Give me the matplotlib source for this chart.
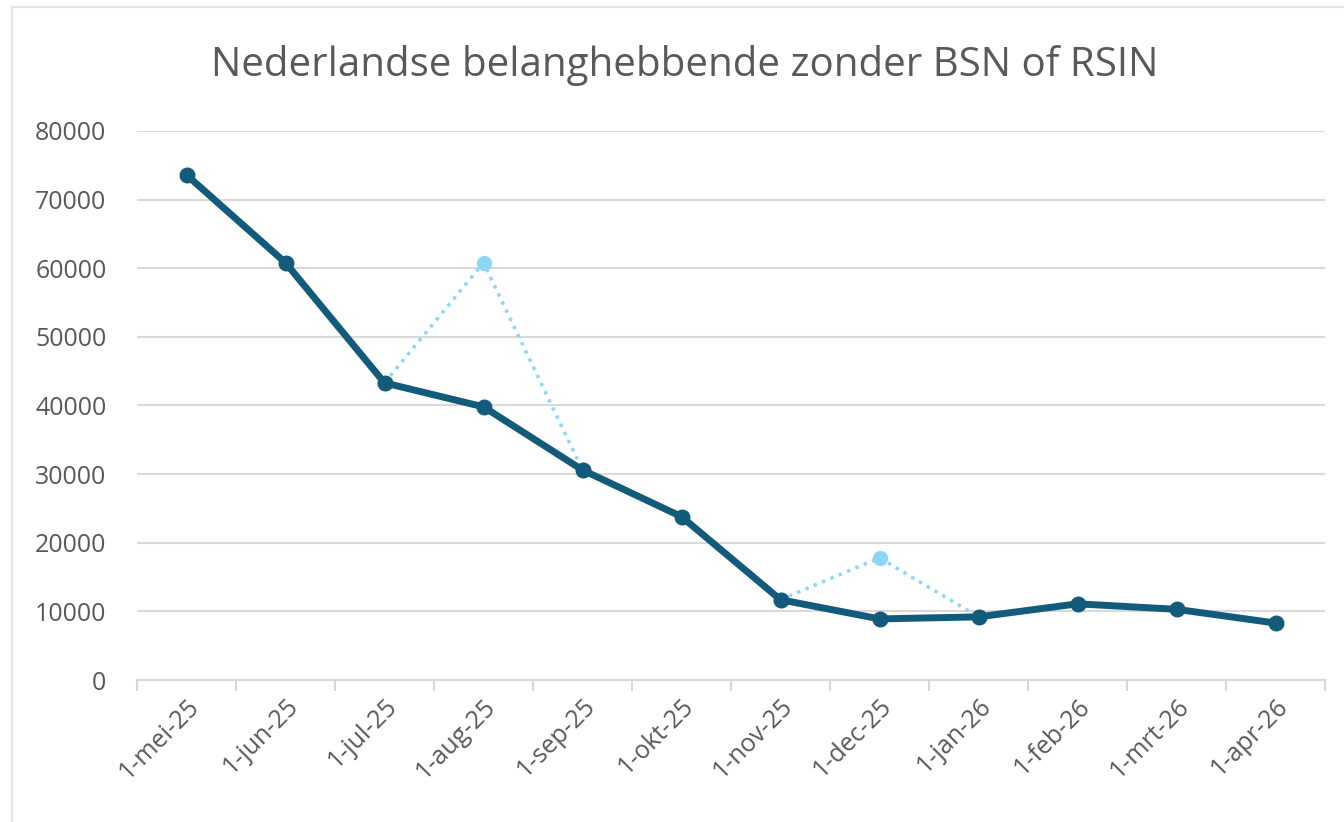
import numpy as np
import matplotlib
matplotlib.use("Agg")
import matplotlib.pyplot as plt

# data
maanden = ["1-mei-25", "1-jun-25", "1-jul-25", "1-aug-25", "1-sep-25", "1-okt-25",
           "1-nov-25", "1-dec-25", "1-jan-26", "1-feb-26", "1-mrt-26", "1-apr-26"]
aantal = [73600, 60800, 43300, 39800, 30600, 23800,
          11700, 8900, 9200, 11100, 10300, 8300]
# lichte reeks (oude waarden), alleen waar die afwijkt
oud = [np.nan, np.nan, 43300, 60800, 30600, np.nan,
       11700, 17800, 9200, np.nan, np.nan, np.nan]

donker = "#135B7A"
licht = "#8ED6F6"
grijs = "#595959"

plt.rcParams['font.family'] = ['Open Sans', 'DejaVu Sans']

fig = plt.figure(figsize=(13.44, 8.22), dpi=100)
ax = fig.add_axes([137 / 1344, 1 - 680 / 822, (1325 - 137) / 1344, (680 - 131) / 822])

x = np.arange(len(maanden))
ax.plot(x, oud, color=licht, linestyle=(0, (1, 1.6)), linewidth=2.5,
        marker='o', markersize=10, zorder=2)
ax.plot(x, aantal, color=donker, linewidth=5, marker='o', markersize=10.5,
        solid_joinstyle='round', zorder=3)

ax.set_xlim(-0.5, len(maanden) - 0.5)
ax.set_ylim(0, 80000)
ax.set_yticks(range(0, 80001, 10000))
ax.yaxis.grid(True, color="#D9D9D9", linewidth=1.5)
ax.set_axisbelow(True)

ax.set_xticks(x)
ax.set_xticklabels(maanden, rotation=45, ha='right', rotation_mode='anchor',
                   fontsize=18, color=grijs)
ax.set_xticks(np.arange(-0.5, len(maanden)), minor=True)
ax.tick_params(axis='x', which='major', length=0, pad=10)
ax.tick_params(axis='x', which='minor', length=8, color="#D9D9D9", width=1.5)
ax.tick_params(axis='y', length=0, pad=22, labelsize=18, labelcolor=grijs)

for s in ['top', 'right', 'left']:
    ax.spines[s].set_visible(False)
ax.spines['bottom'].set_color("#D9D9D9")
ax.spines['bottom'].set_linewidth(1.5)

fig.text(685 / 1344, 1 - 65 / 822, "Nederlandse belanghebbende zonder BSN of RSIN",
         ha='center', va='center', fontsize=29, color=grijs)

# lichte celranden rondom
fig.add_artist(plt.Line2D([12 / 1344, 12 / 1344], [0, 1 - 7 / 822], color="#E3E3E3", linewidth=1.5))
fig.add_artist(plt.Line2D([12 / 1344, 1], [1 - 7 / 822, 1 - 7 / 822], color="#E3E3E3", linewidth=1.5))

fig.savefig("out.png", dpi=100)
